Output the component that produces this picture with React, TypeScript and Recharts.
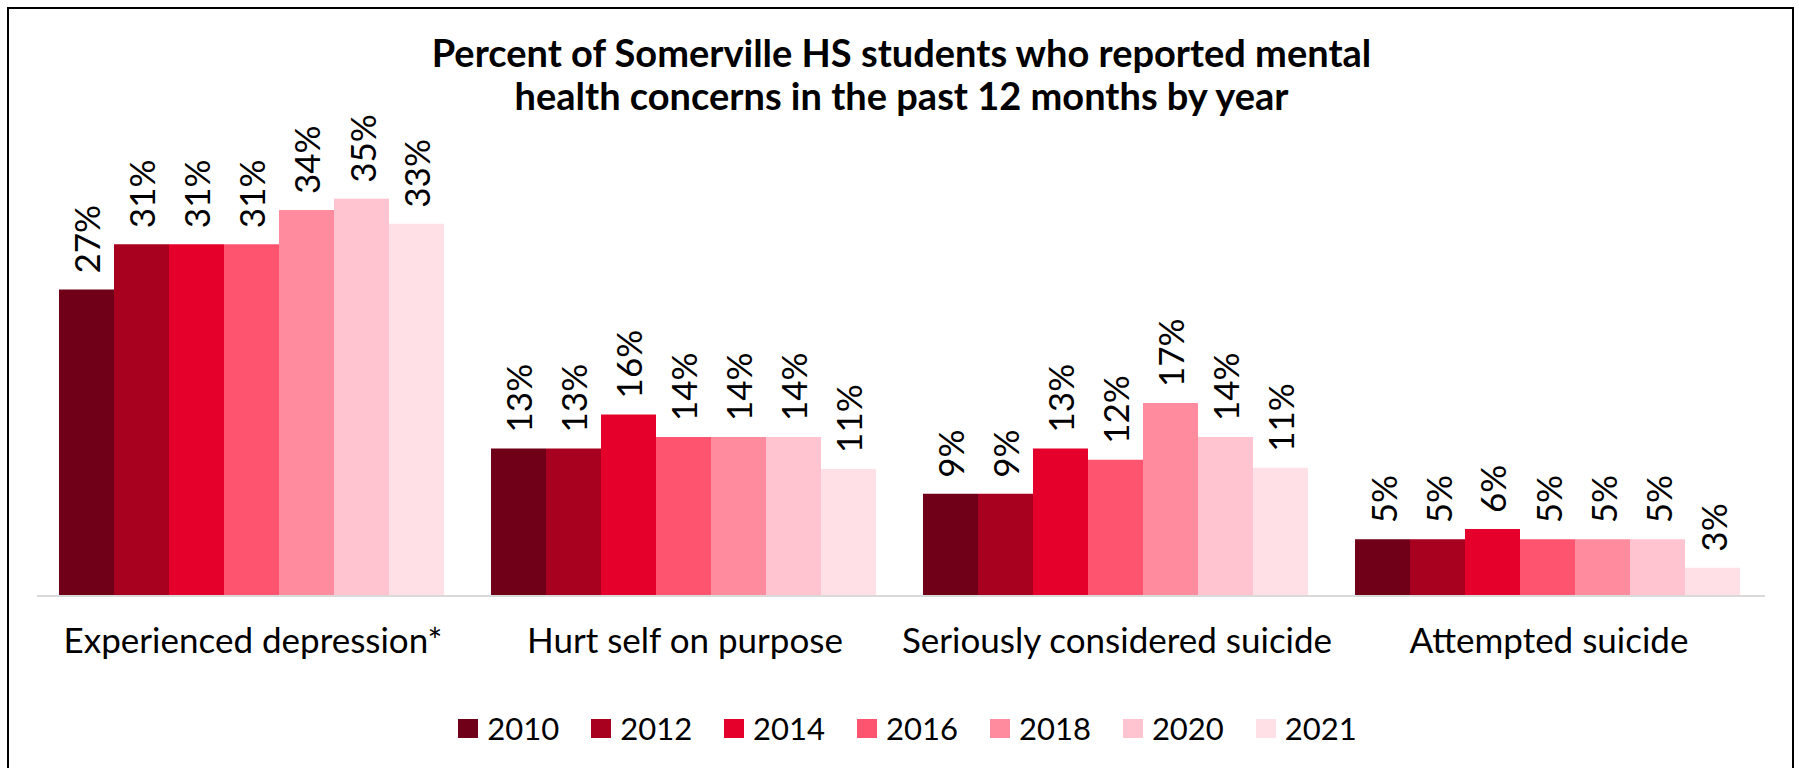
import { BarChart, Bar, XAxis, YAxis, LabelList } from "recharts";

const categories = [
  "Experienced depression*",
  "Hurt self on purpose",
  "Seriously considered suicide",
  "Attempted suicide",
];
const years = ["2010", "2012", "2014", "2016", "2018", "2020", "2021"];
const colors = ["#700018", "#a8001f", "#e4002b", "#ff5470", "#ff8c9e", "#ffc4d0", "#ffe0e6"];

// percent by year, in category order
const pct2010 = [27, 13, 9, 5];
const pct2012 = [31, 13, 9, 5];
const pct2014 = [31, 16, 13, 5.9];
const pct2016 = [31, 14, 12, 5];
const pct2018 = [34, 14, 17, 5];
const pct2020 = [35, 14, 14, 5];
const pct2021 = [32.8, 11.2, 11.3, 2.5];
const seriesValues = [pct2010, pct2012, pct2014, pct2016, pct2018, pct2020, pct2021];

const titleLines = [
  "Percent of Somerville HS students who reported mental",
  "health concerns in the past 12 months by year",
];

const FONT = "Lato, 'Open Sans', sans-serif";

const data = categories.map((name, i) => {
  const row: Record<string, string | number> = { name };
  years.forEach((yr, j) => {
    row[yr] = seriesValues[j][i];
  });
  return row;
});

function CategoryTick({ x, y, payload }: any) {
  return (
    <text x={x} y={y} dy={49} textAnchor="middle" fontSize={35} fill="#000" fontFamily={FONT}>
      {payload.value}
    </text>
  );
}

function BarLabel({ x, y, width, value }: any) {
  const cx = x + width / 2;
  const ty = y - 16;
  return (
    <text
      x={cx}
      y={ty}
      transform={`rotate(-90 ${cx} ${ty})`}
      textAnchor="start"
      dominantBaseline="central"
      fontSize={35}
      fill="#000"
      fontFamily={FONT}
    >
      {Math.round(value)}%
    </text>
  );
}

export default function App() {
  return (
    <div style={{ position: "relative", width: 1799, height: 768, overflow: "hidden", background: "#fff" }}>
      <style>{"body{margin:0}"}</style>
      <div
        style={{
          position: "absolute",
          left: 7,
          top: 7,
          width: 1787,
          height: 800,
          border: "2px solid #000",
          boxSizing: "border-box",
        }}
      />
      <div
        style={{
          position: "absolute",
          top: 31,
          left: 0,
          width: 1803,
          textAlign: "center",
          fontFamily: FONT,
          fontWeight: 700,
          fontSize: 38,
          lineHeight: "43px",
          color: "#000",
        }}
      >
        {titleLines.map((t) => (
          <div key={t}>{t}</div>
        ))}
      </div>
      <div style={{ position: "absolute", top: 0, left: 0 }}>
        <BarChart
          width={1799}
          height={768}
          data={data}
          margin={{ top: 142, right: 34, bottom: 142, left: 37 }}
          barCategoryGap={22}
          barGap={0}
        >
          <XAxis
            dataKey="name"
            height={30}
            axisLine={{ stroke: "#d9d9d9", strokeWidth: 2 }}
            tickLine={false}
            tick={<CategoryTick />}
            interval={0}
          />
          <YAxis hide domain={[0, 40]} />
          {years.map((yr, j) => (
            <Bar key={yr} dataKey={yr} fill={colors[j]} isAnimationActive={false}>
              <LabelList dataKey={yr} content={<BarLabel />} />
            </Bar>
          ))}
        </BarChart>
      </div>
      <div
        style={{
          position: "absolute",
          top: 708,
          left: 8,
          width: 1799,
          display: "flex",
          justifyContent: "center",
          alignItems: "center",
          fontFamily: FONT,
          fontSize: 31,
          color: "#000",
          height: 40,
        }}
      >
        {years.map((yr, j) => (
          <div key={yr} style={{ display: "flex", alignItems: "center", marginLeft: j === 0 ? 0 : 32 }}>
            <span style={{ width: 20, height: 19, background: colors[j], marginRight: 9, display: "inline-block" }} />
            <span>{yr}</span>
          </div>
        ))}
      </div>
    </div>
  );
}
